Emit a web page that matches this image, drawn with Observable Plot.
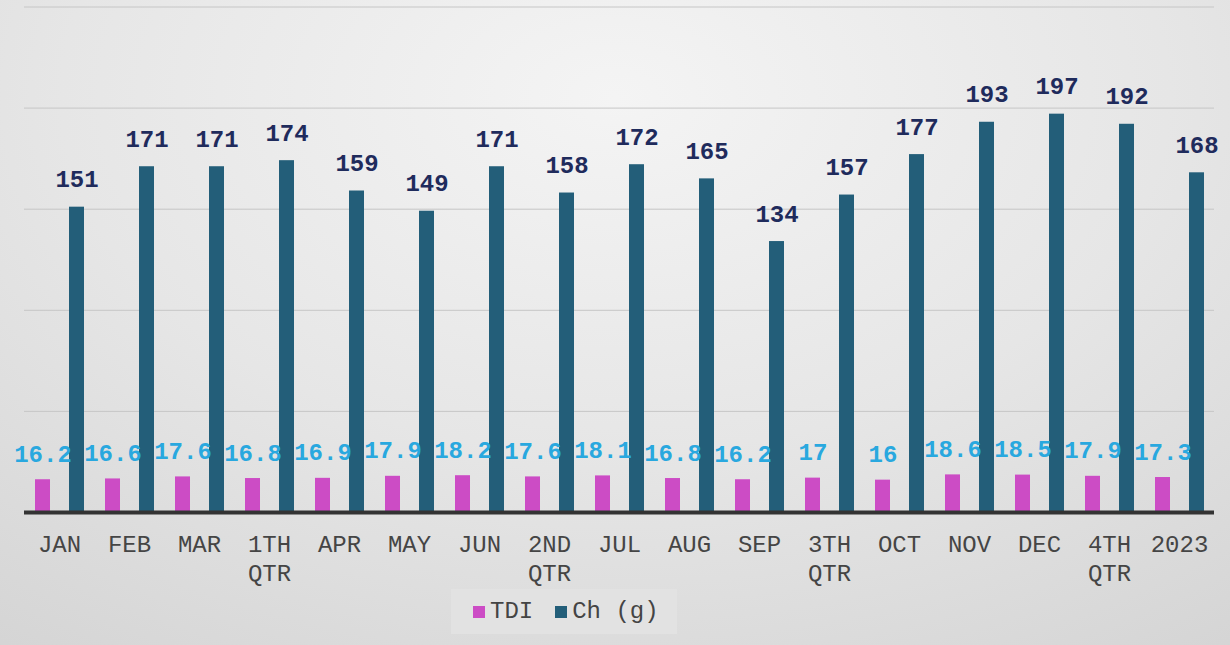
<!DOCTYPE html>
<html>
<head>
<meta charset="utf-8">
<script src="https://cdn.jsdelivr.net/npm/d3@7"></script>
<script src="https://cdn.jsdelivr.net/npm/@observablehq/plot@0.6"></script>
<style>
  html, body { margin: 0; padding: 0; }
  body {
    width: 1230px; height: 645px; overflow: hidden; position: relative;
    background: radial-gradient(ellipse 90% 110% at 50% 15%, #f4f4f4 0%, #e6e6e6 50%, #d3d3d3 100%);
    font-family: "Courier New", "Liberation Mono", monospace;
  }
  #chart { position: absolute; left: 0; top: 0; }
  #legend {
    position: absolute; left: 451px; top: 589px; width: 226px; height: 45px;
    box-sizing: border-box; padding-left: 22px; white-space: nowrap;
    background: #e2e2e2; display: flex; align-items: center; justify-content: flex-start;
    font-size: 24px; color: #444;
  }
  .item { display: flex; align-items: center; margin-right: 22px; flex-shrink: 0; white-space: pre; }
  .sw { width: 12px; height: 12px; margin-right: 5px; flex-shrink: 0; }
</style>
</head>
<body>
<div id="chart"></div>
<div id="legend"></div>
<script>
const categories = ["JAN","FEB","MAR","1TH QTR","APR","MAY","JUN","2ND QTR","JUL","AUG","SEP","3TH QTR","OCT","NOV","DEC","4TH QTR","2023"];
const series = ["TDI", "Ch (g)"];
const tdi = [16.2,16.6,17.6,16.8,16.9,17.9,18.2,17.6,18.1,16.8,16.2,17,16,18.6,18.5,17.9,17.3];
const ch = [151,171,171,174,159,149,171,158,172,165,134,157,177,193,197,192,168];
const gridTicks = [50,100,150,200,250];
const colors = ["#cc4cc5", "#235e79"];
const labelColors = ["#29a8df", "#1f2b5c"];

const rows = categories.flatMap((c, i) => [
  {cat: c, series: series[0], value: tdi[i]},
  {cat: c, series: series[1], value: ch[i]}
]);

const font = "'Courier New', 'Liberation Mono', monospace";

const chart = Plot.plot({
  width: 1230,
  height: 585,
  marginLeft: 22,
  marginRight: 14,
  marginTop: 6.5,
  marginBottom: 73,
  style: {background: "transparent", fontFamily: font, overflow: "visible"},
  fx: {domain: categories, padding: 0, label: null},
  x: {domain: series, paddingInner: 0.56, paddingOuter: 0.3, axis: null},
  y: {domain: [0, 250], axis: null},
  color: {domain: series, range: colors},
  marks: [
    Plot.ruleY(gridTicks, {stroke: "#c6c6c6", strokeWidth: 1}),
    Plot.barY(rows, {fx: "cat", x: "series", y: "value", fill: "series"}),
    Plot.text(rows.filter(d => d.series === series[1]), {
      fx: "cat", x: "series", y: "value", text: d => String(d.value),
      lineAnchor: "bottom", dy: -20, fill: labelColors[1],
      fontSize: 24, fontWeight: "bold", fontFamily: font
    }),
    Plot.text(rows.filter(d => d.series === series[0]), {
      fx: "cat", x: "series", y: "value", text: d => String(d.value),
      lineAnchor: "bottom", dy: -18, fill: labelColors[0],
      fontSize: 24, fontWeight: "bold", fontFamily: font
    }),
    Plot.ruleY([0], {stroke: "#333333", strokeWidth: 4}),
    Plot.axisFx({
      anchor: "bottom", tickSize: 0, tickPadding: 19, label: null,
      tickFormat: d => d.replace(" ", "\n"),
      fontSize: 24, fill: "#454545", fontFamily: font, lineHeight: 1.2
    })
  ]
});
document.getElementById("chart").appendChild(chart);

const legend = document.getElementById("legend");
series.forEach((s, i) => {
  const item = document.createElement("div");
  item.className = "item";
  const sw = document.createElement("div");
  sw.className = "sw";
  sw.style.background = colors[i];
  const t = document.createElement("span");
  t.textContent = s;
  item.appendChild(sw);
  item.appendChild(t);
  legend.appendChild(item);
});
</script>
</body>
</html>
